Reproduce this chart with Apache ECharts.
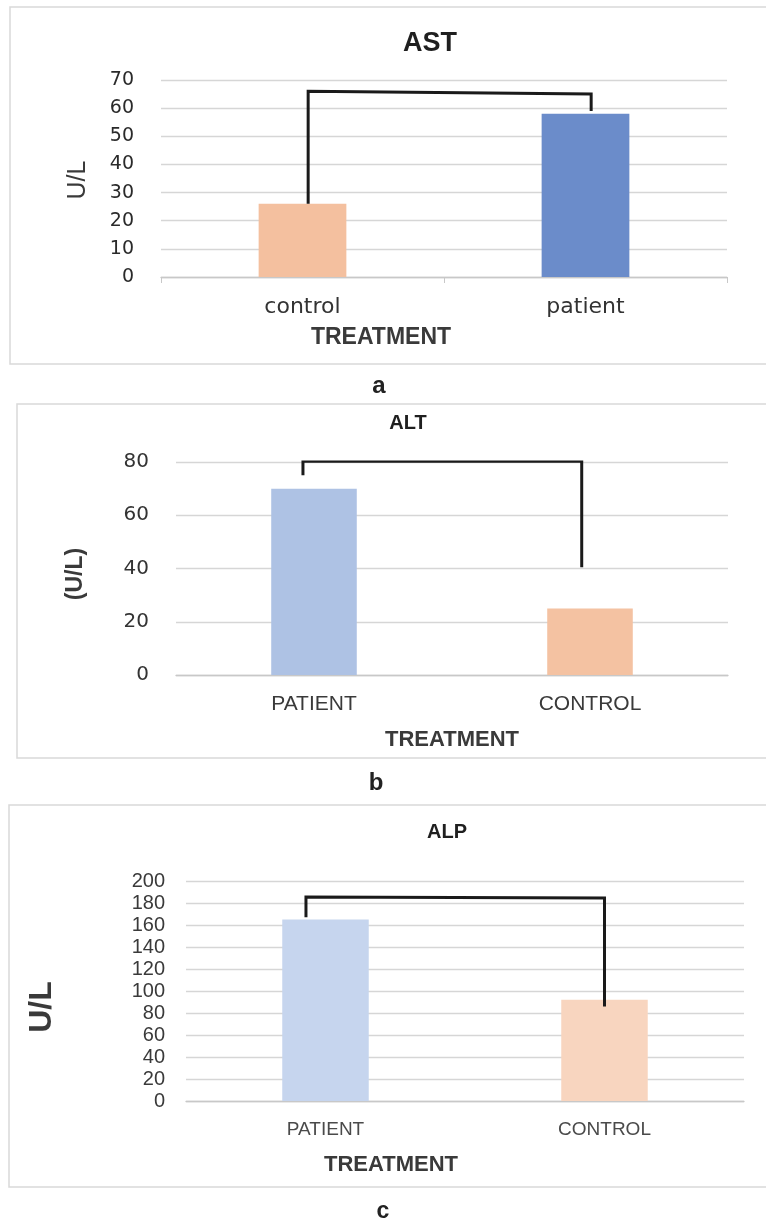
<!DOCTYPE html>
<html>
<head>
<meta charset="utf-8">
<script src="https://cdn.jsdelivr.net/npm/echarts@6/dist/echarts.min.js"></script>
<style>
  html, body { margin: 0; padding: 0; background: #fff; }
  #main { width: 766px; height: 1222px; }
</style>
</head>
<body>
<div id="main"></div>
<script>
// panel a - AST
var astCats = ['control', 'patient'];
var astValues = [26, 58];
var astTicks = [0, 10, 20, 30, 40, 50, 60, 70];
var astBracket = [[0.02, 26], [0.02, 66], [1.02, 65], [1.02, 59]];

// panel b - ALT
var altCats = ['PATIENT', 'CONTROL'];
var altValues = [70, 25];
var altTicks = [0, 20, 40, 60, 80];
var altBracket = [[-0.04, 75], [-0.04, 80.3], [0.97, 80.3], [0.97, 40.5]];

// panel c - ALP
var alpCats = ['PATIENT', 'CONTROL'];
var alpValues = [165, 92];
var alpTicks = [0, 20, 40, 60, 80, 100, 120, 140, 160, 180, 200];
var alpBracket = [[-0.07, 167], [-0.07, 185.5], [1.0, 184.5], [1.0, 86]];

var astColors = ['#F4C09F', '#6B8CCA'];
var altColors = ['#AEC2E4', '#F4C2A2'];
var alpColors = ['#C6D5EE', '#F8D5BF'];

var gridColor = '#d6d6d6';
var txtColor = '#3a3a3a';

function colored(values, colors){
    return values.map(function(v, i){
        return { value: v, itemStyle: { color: colors[i] } };
    });
}

function yAxisFor(grid, ticks, font, size, margin, color){
    return {
        type: 'value',
        gridIndex: grid,
        min: ticks[0],
        max: ticks[ticks.length - 1],
        interval: ticks[1] - ticks[0],
        axisLine: { show: false },
        axisTick: { show: false },
        splitLine: { lineStyle: { color: gridColor, width: 1.3 } },
        axisLabel: { color: color, fontFamily: font, fontSize: size, margin: margin }
    };
}

function catAxisFor(grid, cats, font, size, withTicks, color){
    return {
        type: 'category',
        gridIndex: grid,
        data: cats,
        axisLine: { show: true, lineStyle: { color: '#c8c8c8', width: 1.3 } },
        axisTick: { show: withTicks, length: 6, lineStyle: { color: '#c8c8c8' } },
        axisLabel: { color: color, fontFamily: font, fontSize: size, margin: 19 }
    };
}

function hiddenX(grid){
    return { type: 'value', gridIndex: grid, min: -0.5, max: 1.5, show: false };
}

function bracket(xIdx, yIdx, data){
    return {
        type: 'line',
        xAxisIndex: xIdx,
        yAxisIndex: yIdx,
        data: data,
        symbol: 'none',
        silent: true,
        z: 5,
        lineStyle: { color: '#1a1a1a', width: 3, join: 'miter' }
    };
}

function label(x, y, text, size, bold, color, rotate){
    return {
        type: 'text',
        x: x,
        y: y,
        rotation: rotate ? Math.PI / 2 : 0,
        style: {
            text: text,
            fontFamily: 'Liberation Sans',
            fontSize: size,
            fontWeight: bold ? 'bold' : 'normal',
            fill: color,
            align: 'center',
            verticalAlign: 'middle'
        }
    };
}

function frame(x, y, w, h){
    return {
        type: 'rect',
        shape: { x: x, y: y, width: w, height: h },
        style: { fill: 'none', stroke: '#d9d9d9', lineWidth: 1.5 }
    };
}

var chart = echarts.init(document.getElementById('main'));
var option = {
    animation: false,
    grid: [
        { left: 161, top: 80, width: 566, height: 197 },
        { left: 176, top: 462, width: 552, height: 213 },
        { left: 186, top: 881, width: 558, height: 220 }
    ],
    xAxis: [
        catAxisFor(0, astCats, 'DejaVu Sans', 22, true, '#333'),
        catAxisFor(1, altCats, 'Liberation Sans', 21, false, txtColor),
        catAxisFor(2, alpCats, 'Liberation Sans', 19, false, '#4a4a4a'),
        hiddenX(0), hiddenX(1), hiddenX(2)
    ],
    yAxis: [
        yAxisFor(0, astTicks, 'DejaVu Sans', 19, 27, '#2a2a2a'),
        yAxisFor(1, altTicks, 'DejaVu Sans', 20, 27, '#333'),
        yAxisFor(2, alpTicks, 'Liberation Sans', 20, 21, '#3a3a3a')
    ],
    series: [
        { type: 'bar', xAxisIndex: 0, yAxisIndex: 0, barWidth: '31%', data: colored(astValues, astColors) },
        { type: 'bar', xAxisIndex: 1, yAxisIndex: 1, barWidth: '31%', data: colored(altValues, altColors) },
        { type: 'bar', xAxisIndex: 2, yAxisIndex: 2, barWidth: '31%', data: colored(alpValues, alpColors) },
        bracket(3, 0, astBracket),
        bracket(4, 1, altBracket),
        bracket(5, 2, alpBracket)
    ],
    graphic: [
        frame(10, 7, 770, 357),
        frame(17, 404, 770, 354),
        frame(9, 805, 770, 382),
        label(430, 44, 'AST', 27, true, '#1f1f1f'),
        label(78, 180, 'U/L', 25, false, txtColor, true),
        label(381, 338, 'TREATMENT', 23, true, txtColor),
        label(379, 386, 'a', 24, true, '#222'),
        label(408, 423, 'ALT', 20, true, '#1f1f1f'),
        label(76, 574, '(U/L)', 23, true, txtColor, true),
        label(452, 740, 'TREATMENT', 22, true, txtColor),
        label(376, 783, 'b', 24, true, '#222'),
        label(447, 832, 'ALP', 20, true, '#1f1f1f'),
        label(42, 1007, 'U/L', 32, true, txtColor, true),
        label(391, 1165, 'TREATMENT', 22, true, txtColor),
        label(383, 1212, 'c', 23, true, '#222')
    ]
};
chart.setOption(option);
</script>
</body>
</html>
